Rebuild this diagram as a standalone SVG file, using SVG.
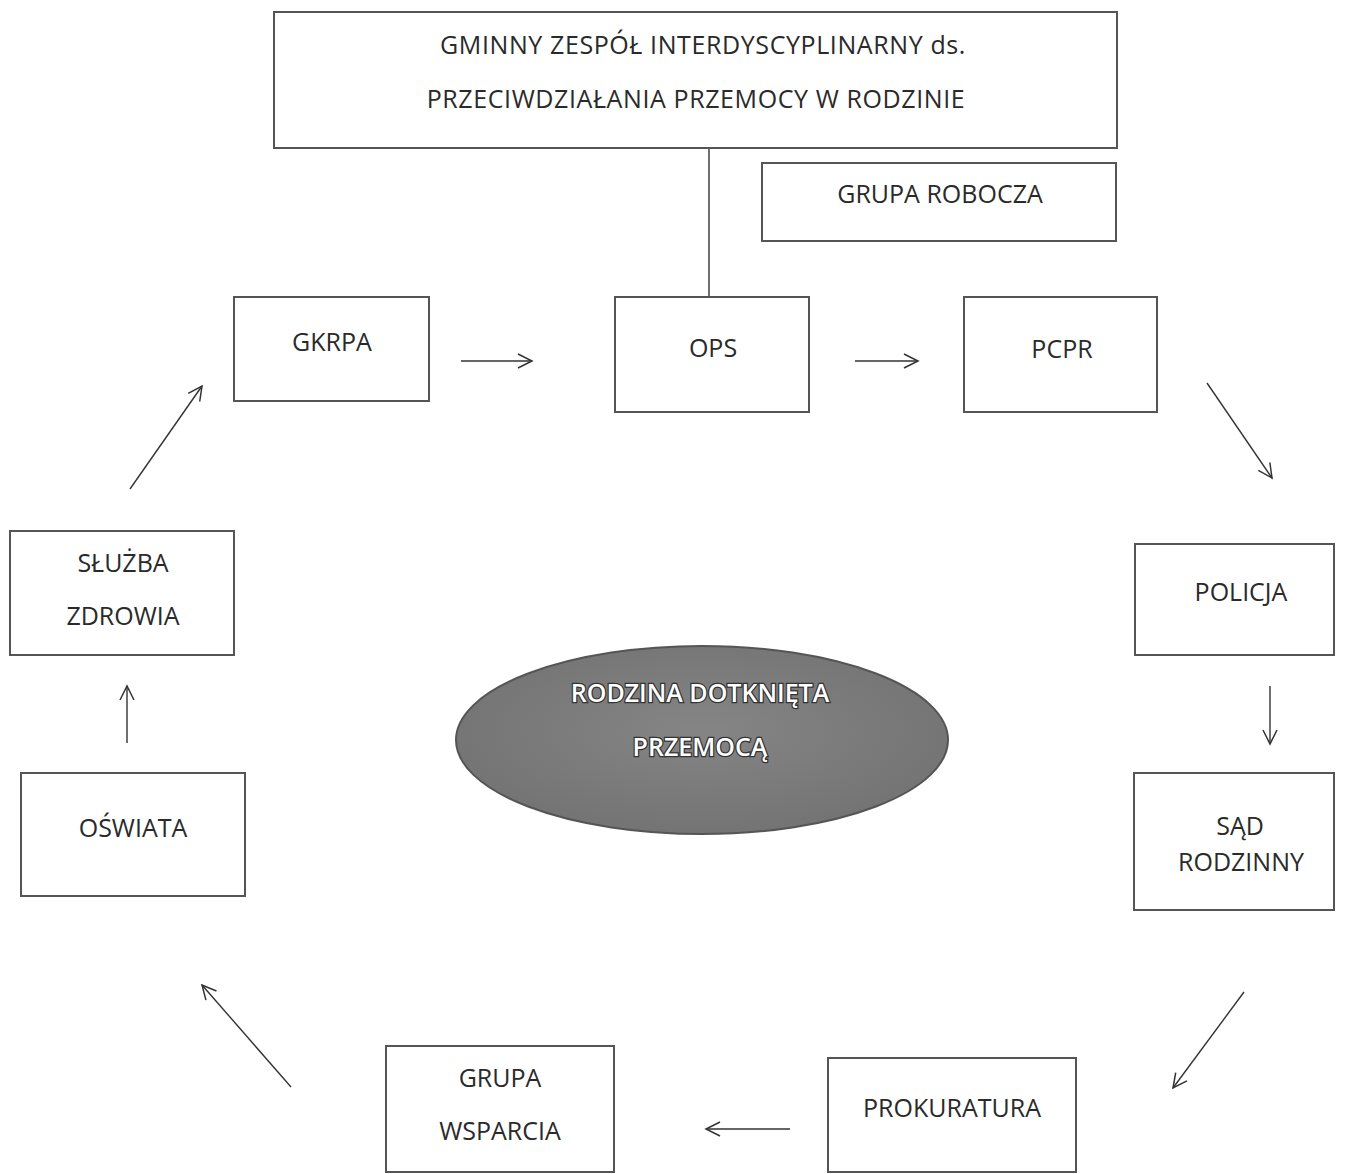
<svg xmlns="http://www.w3.org/2000/svg" width="1357" height="1174" viewBox="0 0 1357 1174">
<defs>
<style>
.box{fill:#fff;stroke:#555;stroke-width:2}
.t{font-family:"Open Sans","Noto Sans",sans-serif;font-size:25px;fill:#2a2a2a;text-anchor:middle}
.w{letter-spacing:0.6px}
.c{stroke:#333;stroke-width:1.4;fill:none}
.a{marker-end:url(#arr)}
.et{font-family:"Open Sans","Noto Sans",sans-serif;font-size:25px;font-weight:600;fill:#fff;stroke:#333;stroke-width:2.5;paint-order:stroke;text-anchor:middle}
</style>
<marker id="arr" viewBox="0 0 20 20" refX="18" refY="10" markerWidth="20" markerHeight="20" markerUnits="userSpaceOnUse" orient="auto">
<path d="M4 3 L18 10 L4 17" fill="none" stroke="#333" stroke-width="1.5"/>
</marker>
<radialGradient id="eg" cx="50%" cy="45%" r="60%">
<stop offset="0" stop-color="#858585"/>
<stop offset="1" stop-color="#727272"/>
</radialGradient>
</defs>
<rect width="1357" height="1174" fill="#fff"/>
<g id="connectors">
<line class="c" x1="709" y1="115" x2="709" y2="297"/>
<line class="c a" x1="461" y1="361" x2="532" y2="361"/>
<line class="c a" x1="855" y1="361" x2="918" y2="361"/>
<line class="c a" x1="1207" y1="383" x2="1272" y2="478"/>
<line class="c a" x1="1270" y1="686" x2="1270" y2="744"/>
<line class="c a" x1="1244" y1="992" x2="1173" y2="1088"/>
<line class="c a" x1="790" y1="1129" x2="706" y2="1129"/>
<line class="c a" x1="291" y1="1087" x2="202" y2="985"/>
<line class="c a" x1="127" y1="743" x2="127" y2="686"/>
<line class="c a" x1="130" y1="489" x2="202" y2="386"/>
</g>
<g id="zespol">
<rect class="box" x="274" y="12" width="843" height="136"/>
<text class="t w" x="703" y="54">GMINNY ZESPÓŁ INTERDYSCYPLINARNY ds.</text>
<text class="t w" x="696" y="108">PRZECIWDZIAŁANIA PRZEMOCY W RODZINIE</text>
</g>
<g id="grupa-robocza">
<rect class="box" x="762" y="163" width="354" height="78"/>
<text class="t" x="940" y="203">GRUPA ROBOCZA</text>
</g>
<g id="gkrpa">
<rect class="box" x="234" y="297" width="195" height="104"/>
<text class="t" x="332" y="351">GKRPA</text>
</g>
<g id="ops">
<rect class="box" x="615" y="297" width="194" height="115"/>
<text class="t" x="713" y="357">OPS</text>
</g>
<g id="pcpr">
<rect class="box" x="964" y="297" width="193" height="115"/>
<text class="t" x="1062" y="358">PCPR</text>
</g>
<g id="policja">
<rect class="box" x="1135" y="544" width="199" height="111"/>
<text class="t" x="1241" y="601">POLICJA</text>
</g>
<g id="sad">
<rect class="box" x="1134" y="773" width="200" height="137"/>
<text class="t" x="1240" y="835">SĄD</text>
<text class="t" x="1241" y="871">RODZINNY</text>
</g>
<g id="prokuratura">
<rect class="box" x="828" y="1058" width="248" height="114"/>
<text class="t" x="952" y="1117">PROKURATURA</text>
</g>
<g id="grupa-wsparcia">
<rect class="box" x="386" y="1046" width="228" height="126"/>
<text class="t" x="500" y="1087">GRUPA</text>
<text class="t" x="500" y="1140">WSPARCIA</text>
</g>
<g id="oswiata">
<rect class="box" x="21" y="773" width="224" height="123"/>
<text class="t" x="133" y="837">OŚWIATA</text>
</g>
<g id="sluzba-zdrowia">
<rect class="box" x="10" y="531" width="224" height="124"/>
<text class="t" x="123" y="572">SŁUŻBA</text>
<text class="t" x="123" y="625">ZDROWIA</text>
</g>
<g id="rodzina">
<ellipse cx="702" cy="740" rx="246" ry="94" fill="url(#eg)" stroke="#555" stroke-width="2"/>
<text class="et" x="700" y="702">RODZINA DOTKNIĘTA</text>
<text class="et" x="700" y="756">PRZEMOCĄ</text>
</g>
</svg>
